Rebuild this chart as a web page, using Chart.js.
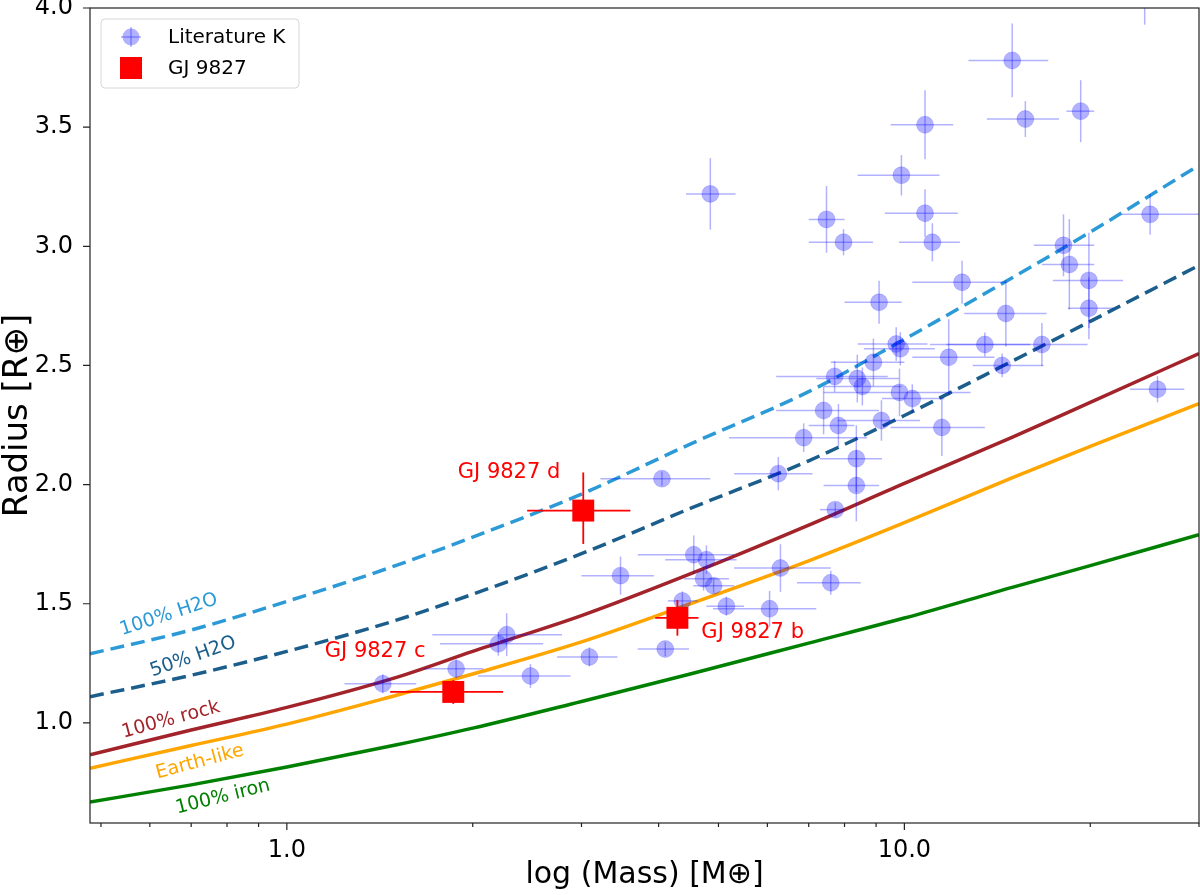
<!DOCTYPE html>
<html>
<head>
<meta charset="utf-8">
<script src="https://cdn.jsdelivr.net/npm/chart.js@4.4.1/dist/chart.umd.min.js"></script>
<style>
  html, body { margin: 0; padding: 0; background: #fff; }
  #wrap { width: 1200px; height: 895px; }
</style>
</head>
<body>
<div id="wrap"><canvas id="mr" width="1200" height="895"></canvas></div>
<script>
// ---------------- DATA ----------------

// literature planets (mass in Earth masses, radius in Earth radii)
const litMass = [1.43, 1.88, 2.20, 2.27, 2.48, 3.09, 3.47, 4.05, 4.10, 4.37,
    4.56, 4.78, 4.73, 4.91, 5.15, 6.05, 6.30, 7.60, 4.85, 7.48,
    7.97, 9.89, 10.8, 10.8, 11.1, 12.4, 9.10, 14.6, 14.95, 15.7,
    19.3, 18.1, 18.5, 19.9, 19.9, 25.0, 24.5, 9.70, 9.85, 11.8,
    13.5, 14.4, 16.7, 25.7, 7.71, 8.39, 8.55, 8.91, 9.82, 10.3,
    7.40, 7.82, 9.18, 11.5, 6.87, 6.25, 8.36, 8.36, 7.73];
const litRadius = [1.164, 1.227, 1.332, 1.370, 1.197, 1.277, 1.618, 2.025, 1.310, 1.512,
    1.706, 1.685, 1.605, 1.576, 1.490, 1.479, 1.650, 1.588, 3.220, 3.113,
    3.017, 3.298, 3.510, 3.139, 3.017, 2.849, 2.765, 2.718, 3.780, 3.534,
    3.567, 3.004, 2.924, 2.857, 2.740, 3.134, 4.120, 2.590, 2.570, 2.534,
    2.588, 2.500, 2.588, 2.400, 2.454, 2.445, 2.412, 2.513, 2.387, 2.361,
    2.311, 2.248, 2.269, 2.240, 2.197, 2.046, 2.109, 1.996, 1.895];
const litMassLo = [1.24, 1.67, 1.77, 1.72, 2.04, 2.74, 3.00, 3.22, 3.70, 4.14,
    3.70, 4.10, 4.40, 4.55, 4.78, 4.90, 5.30, 6.70, 4.43, 7.00,
    7.00, 8.40, 9.50, 9.30, 9.80, 10.3, 8.00, 12.5, 12.7, 13.6,
    18.3, 16.2, 16.7, 17.4, 18.4, 22.5, 23.0, 8.40, 8.60, 10.3,
    11.0, 12.9, 11.7, 23.2, 6.20, 7.20, 7.40, 7.60, 7.40, 9.20,
    6.20, 7.00, 7.80, 9.50, 5.20, 5.30, 7.30, 7.40, 7.30];
const litMassHi = [1.62, 2.08, 2.60, 2.79, 2.88, 3.43, 3.93, 4.85, 4.48, 4.63,
    5.30, 5.35, 5.20, 5.30, 5.50, 7.20, 7.60, 8.50, 5.33, 8.00,
    8.90, 11.4, 12.0, 12.2, 12.3, 14.6, 9.90, 17.0, 17.1, 17.8,
    20.3, 20.3, 20.3, 22.6, 21.8, 32.0, 26.0, 10.9, 11.2, 14.0,
    16.0, 16.8, 19.8, 28.4, 9.40, 9.80, 9.90, 10.0, 12.8, 11.6,
    9.10, 8.30, 10.6, 13.5, 8.70, 7.10, 9.20, 9.10, 8.00];
const litRadErr = [0.04, 0.04, 0.05, 0.09, 0.05, 0.04, 0.08, 0.03, 0.03, 0.04,
    0.08, 0.06, 0.05, 0.03, 0.04, 0.075, 0.10, 0.05, 0.15, 0.14,
    0.055, 0.085, 0.145, 0.10, 0.08, 0.09, 0.09, 0.14, 0.155, 0.075,
    0.13, 0.13, 0.19, 0.20, 0.13, 0.085, 0.19, 0.07, 0.07, 0.16,
    0.05, 0.05, 0.09, 0.055, 0.065, 0.10, 0.08, 0.10, 0.10, 0.06,
    0.10, 0.09, 0.085, 0.12, 0.06, 0.07, 0.14, 0.15, 0.03];

// GJ 9827 b, c, d
const gjNames = ["GJ 9827 b", "GJ 9827 c", "GJ 9827 d"];
const gjMass = [4.29, 1.86, 3.02];
const gjRadius = [1.441, 1.13, 1.891];
const gjMassLo = [3.95, 1.47, 2.45];
const gjMassHi = [4.64, 2.24, 3.60];
const gjRadErrUp = [0.075, 0.05, 0.16];
const gjRadErrDn = [0.075, 0.05, 0.14];

// composition curves
const modelMass = [0.48, 0.7, 1, 1.5, 2, 3, 4.5, 7, 10, 15, 20, 30];
const h2o100R = [1.29, 1.39, 1.51, 1.66, 1.78, 1.96, 2.17, 2.39, 2.61, 2.87, 3.06, 3.34];
const h2o50R = [1.11, 1.20, 1.30, 1.43, 1.54, 1.71, 1.90, 2.10, 2.29, 2.52, 2.685, 2.92];
const rockR = [0.866, 0.97, 1.065, 1.19, 1.30, 1.45, 1.625, 1.83, 2.005, 2.20, 2.345, 2.55];
const earthR = [0.81, 0.905, 0.995, 1.115, 1.205, 1.34, 1.50, 1.68, 1.84, 2.03, 2.16, 2.34];
const ironR = [0.668, 0.74, 0.815, 0.907, 0.978, 1.09, 1.205, 1.335, 1.44, 1.57, 1.66, 1.79];

// ticks
const xMajorTicks = [1, 10];
const xMinorTicks = [0.5, 0.6, 0.7, 0.8, 0.9, 2, 3, 4, 5, 6, 7, 8, 9, 20, 30];
const yTicks = [1.0, 1.5, 2.0, 2.5, 3.0, 3.5, 4.0];

// ---------------- HELPERS ----------------

const curve = (rs) => modelMass.map((m, i) => ({ x: m, y: rs[i] }));

const BLUE = "rgba(0,0,255,0.3)";

// curve labels: [text, mass, radius, angle, colour]
const curveLabels = [
    ["100% H2O", 0.644, 1.454, -18, "#2c9ad6"],
    ["50% H2O", 0.705, 1.277, -19.5, "#1b5e8c"],
    ["100% rock", 0.649, 1.013, -15, "#a2242a"],
    ["Earth-like", 0.723, 0.836, -15, "#ffa500"],
    ["100% iron", 0.788, 0.689, -14, "#008000"]
];
// GJ label anchors (b, c, d)
const gjLabelMass = [5.68, 1.39, 2.29];
const gjLabelRad = [1.378, 1.298, 2.05];

// ---------------- PLUGINS ----------------

const errorBars = {
    id: "errorBars",
    beforeDatasetDraw(chart, args) {
        const ds = chart.data.datasets[args.index];
        if (!ds.errors) return;
        const { ctx, chartArea: a, scales: { x, y } } = chart;
        ctx.save();
        ctx.beginPath();
        ctx.rect(a.left, a.top, a.right - a.left, a.bottom - a.top);
        ctx.clip();
        ctx.strokeStyle = ds.errorColor;
        ctx.lineWidth = ds.errorWidth;
        ds.errors.forEach((e, i) => {
            const p = ds.data[i];
            const px = x.getPixelForValue(p.x);
            const py = y.getPixelForValue(p.y);
            ctx.beginPath();
            ctx.moveTo(x.getPixelForValue(e.xlo), py);
            ctx.lineTo(x.getPixelForValue(e.xhi), py);
            ctx.stroke();
            ctx.beginPath();
            ctx.moveTo(px, y.getPixelForValue(p.y - e.ydn));
            ctx.lineTo(px, y.getPixelForValue(p.y + e.yup));
            ctx.stroke();
        });
        ctx.restore();
    }
};

const decorations = {
    id: "decorations",
    afterDraw(chart) {
        const { ctx, chartArea: a, scales: { x, y } } = chart;
        ctx.save();

        // frame + tick marks
        ctx.strokeStyle = "#222";
        ctx.lineWidth = 1.2;
        ctx.strokeRect(a.left, a.top, a.right - a.left, a.bottom - a.top);
        ctx.beginPath();
        xMajorTicks.forEach(v => {
            const px = x.getPixelForValue(v);
            ctx.moveTo(px, a.bottom); ctx.lineTo(px, a.bottom + 7);
        });
        xMinorTicks.forEach(v => {
            const px = x.getPixelForValue(v);
            ctx.moveTo(px, a.bottom); ctx.lineTo(px, a.bottom + 4);
        });
        yTicks.forEach(v => {
            const py = y.getPixelForValue(v);
            ctx.moveTo(a.left - 7, py); ctx.lineTo(a.left, py);
        });
        ctx.stroke();

        // curve labels
        ctx.font = "19px 'DejaVu Sans'";
        ctx.textAlign = "center";
        ctx.textBaseline = "middle";
        curveLabels.forEach(([t, m, r, ang, col]) => {
            ctx.save();
            ctx.translate(x.getPixelForValue(m), y.getPixelForValue(r));
            ctx.rotate(ang * Math.PI / 180);
            ctx.fillStyle = col;
            ctx.fillText(t, 0, 0);
            ctx.restore();
        });

        // GJ labels
        ctx.font = "21px 'DejaVu Sans'";
        ctx.fillStyle = "red";
        gjNames.forEach((n, i) => {
            ctx.fillText(n, x.getPixelForValue(gjLabelMass[i]), y.getPixelForValue(gjLabelRad[i]));
        });

        // legend
        const lx = a.left + 11, ly = a.top + 11, lw = 198, lh = 69;
        ctx.beginPath();
        ctx.roundRect(lx, ly, lw, lh, 4);
        ctx.fillStyle = "rgba(255,255,255,0.8)";
        ctx.fill();
        ctx.strokeStyle = "#d6d6d6";
        ctx.lineWidth = 1;
        ctx.stroke();

        const mx = lx + 30;
        const r1 = ly + 18, r2 = ly + 49;
        ctx.strokeStyle = BLUE;
        ctx.lineWidth = 1.5;
        ctx.beginPath(); ctx.moveTo(mx - 10, r1); ctx.lineTo(mx + 10, r1); ctx.stroke();
        ctx.beginPath(); ctx.moveTo(mx, r1 - 10); ctx.lineTo(mx, r1 + 10); ctx.stroke();
        ctx.beginPath(); ctx.arc(mx, r1, 8.5, 0, Math.PI * 2);
        ctx.fillStyle = BLUE; ctx.fill();
        ctx.fillStyle = "red";
        ctx.fillRect(mx - 11, r2 - 11, 22, 22);

        ctx.fillStyle = "#000";
        ctx.font = "20px 'DejaVu Sans'";
        ctx.textAlign = "left";
        ctx.fillText("Literature K", lx + 67, r1 + 1);
        ctx.fillText("GJ 9827", lx + 67, r2 + 1);

        ctx.restore();
    }
};

// ---------------- CHART ----------------

Chart.defaults.font.family = "'DejaVu Sans', sans-serif";
Chart.defaults.color = "#000";

const lineSet = (rs, color, dash, order) => ({
    type: "line",
    data: curve(rs),
    borderColor: color,
    borderWidth: 3.5,
    borderDash: dash,
    pointRadius: 0,
    cubicInterpolationMode: "monotone",
    fill: false,
    order: order
});

new Chart(document.getElementById("mr"), {
    type: "scatter",
    data: {
        datasets: [
            {
                label: "GJ 9827",
                data: gjMass.map((m, i) => ({ x: m, y: gjRadius[i] })),
                errors: gjMass.map((m, i) => ({
                    xlo: gjMassLo[i], xhi: gjMassHi[i], yup: gjRadErrUp[i], ydn: gjRadErrDn[i]
                })),
                errorColor: "red",
                errorWidth: 1.8,
                pointStyle: "rect",
                pointRadius: 15.5,
                backgroundColor: "red",
                borderColor: "red",
                borderWidth: 0,
                order: 0
            },
            {
                label: "Literature K",
                data: litMass.map((m, i) => ({ x: m, y: litRadius[i] })),
                errors: litMass.map((m, i) => ({
                    xlo: litMassLo[i], xhi: litMassHi[i], yup: litRadErr[i], ydn: litRadErr[i]
                })),
                errorColor: BLUE,
                errorWidth: 1.5,
                pointRadius: 8.5,
                backgroundColor: BLUE,
                borderColor: "rgba(0,0,255,0.15)",
                borderWidth: 1,
                order: 1
            },
            lineSet(h2o100R, "#2c9ad6", [14, 7], 2),
            lineSet(h2o50R, "#1b5e8c", [14, 7], 3),
            lineSet(rockR, "#a2242a", [], 4),
            lineSet(earthR, "#ffa500", [], 5),
            lineSet(ironR, "#008000", [], 6)
        ]
    },
    options: {
        responsive: false,
        animation: false,
        layout: {
            autoPadding: false,
            padding: { top: 8, right: 1, bottom: 0, left: 0 }
        },
        plugins: {
            legend: { display: false },
            tooltip: { enabled: false }
        },
        scales: {
            x: {
                type: "logarithmic",
                min: 0.48,
                max: 30,
                grid: { display: false },
                border: { display: false },
                afterBuildTicks: s => {
                    s.ticks = xMajorTicks.map(v => ({ value: v }));
                },
                afterFit: s => {
                    s.height = 72;
                    s.paddingLeft = 0;
                    s.paddingRight = 0;
                },
                ticks: {
                    autoSkip: false,
                    maxRotation: 0,
                    padding: 5,
                    font: { size: 24 },
                    callback: v => v.toFixed(1)
                },
                title: {
                    display: true,
                    text: "log (Mass) [M⊕]",
                    font: { size: 30, lineHeight: 1 },
                    padding: { top: 0, bottom: 5 }
                }
            },
            y: {
                min: 0.58,
                max: 4.0,
                grid: { display: false },
                border: { display: false },
                afterBuildTicks: s => {
                    s.ticks = yTicks.map(v => ({ value: v }));
                },
                afterFit: s => {
                    s.width = 90;
                    s.paddingTop = 0;
                    s.paddingBottom = 0;
                },
                ticks: {
                    padding: 9,
                    font: { size: 24 },
                    callback: v => v.toFixed(1)
                },
                title: {
                    display: true,
                    text: "Radius [R⊕]",
                    font: { size: 34, lineHeight: 1 },
                    padding: { top: 1, bottom: 0 }
                }
            }
        }
    },
    plugins: [errorBars, decorations]
});
</script>
</body>
</html>
